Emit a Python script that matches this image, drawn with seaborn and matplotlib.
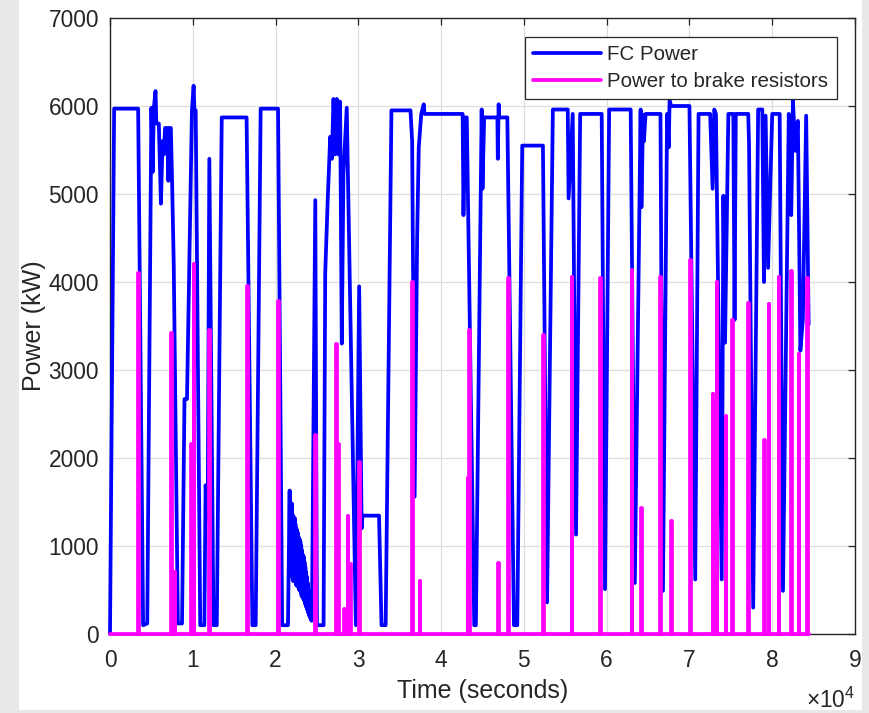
import numpy as np
import pandas as pd
import matplotlib
matplotlib.use("Agg")
import matplotlib.pyplot as plt
from matplotlib.patches import Rectangle
from matplotlib.ticker import FuncFormatter
import seaborn as sns

# ---- FC power trace (time in s, power in kW) ----
fc_t = [0, 500, 3400, 4000, 4500, 5000, 5150, 5300, 5500, 5600, 5900, 6150, 6350,
        6500, 6650, 6900, 7050, 7150, 7350, 7500, 7700, 8200, 8700, 9000, 9300,
        9900, 10100, 10200, 10350, 10900, 11400, 11550, 11800, 12000, 12500, 12900,
        13500, 16500, 17200, 17600, 18200, 20300, 20800, 21500]
fc_kw = [0, 5970, 5970, 100, 120, 5980, 5250, 5980, 6170, 5800, 5800, 4890, 5600,
         5450, 5750, 5750, 5150, 5750, 5750, 5150, 4200, 120, 120, 2670, 2670,
         5950, 6230, 5950, 5950, 100, 100, 1690, 1300, 5400, 100, 100,
         5870, 5870, 100, 100, 5970, 5970, 100, 100]

# oscillating low-power stretch (50 s samples)
osc_t = [21700, 21750, 21800, 21850, 21900, 21950, 22000, 22050, 22100, 22150,
         22200, 22250, 22300, 22350, 22400, 22450, 22500, 22550, 22600, 22650,
         22700, 22750, 22800, 22850, 22900, 22950, 23000, 23050, 23100, 23150,
         23200, 23250, 23300, 23350, 23400, 23450, 23500, 23550, 23600, 23650,
         23700, 23750, 23800, 23850, 23900, 23950, 24000, 24050, 24100, 24150,
         24200, 24250, 24300, 24350, 24400]
osc_kw = [1630, 700, 1500, 760, 1450, 650, 1480, 720, 1350, 600,
          1300, 680, 1320, 620, 1250, 560, 1200, 600, 1180, 540,
          1150, 580, 1100, 500, 1080, 520, 1050, 470, 1000, 430,
          950, 460, 900, 400, 880, 380, 820, 350, 760, 320,
          700, 300, 650, 270, 580, 240, 500, 210, 430, 190,
          360, 170, 300, 150, 250]

fc_t2 = [24800, 25000, 25800, 26000, 26300, 26600, 26800, 27000, 27200, 27400,
         27600, 27800, 28000, 28200, 28600, 29700, 30100, 30400, 30500, 32500,
         32800, 33300, 34000, 36300, 36500, 36800, 37100, 37300, 37600, 37900,
         38000, 42600, 42700, 42900, 43100, 44000, 44200, 44900, 45000, 45200,
         46800, 46850, 46950, 47000, 48000, 48800, 49200, 49800, 52300, 52800,
         53500, 55300, 55400, 55900, 56300, 56800, 59400, 59800, 60300, 62900,
         63400, 64100, 64200, 64400, 64500, 64700, 66500, 66800, 67300, 67500,
         67600, 67800, 70000, 70700, 71100, 72500, 72800, 73000, 73200, 73900,
         74100, 74300, 74700, 75300, 75450, 75600, 77100, 77200, 77700, 78300,
         78800, 79000, 79200, 79500, 80000, 80900, 81300, 82000, 82300, 82500,
         82800, 83100, 83400, 83700, 84100, 84400]
fc_kw2 = [4930, 100, 100, 4100, 4930, 5650, 5400, 6080, 5450, 6080,
          5450, 6050, 3300, 5230, 5980, 100, 3950, 1200, 1345, 1345,
          100, 100, 5950, 5950, 5600, 1560, 4480, 5530, 5910, 6020,
          5910, 5910, 4760, 5870, 5870, 100, 100, 5960, 5060, 5870,
          5870, 5400, 6020, 5870, 5870, 100, 100, 5550, 5550, 360,
          5960, 5960, 4950, 5910, 1130, 5910, 5910, 510, 5960, 5960,
          580, 5960, 4850, 5900, 5600, 5910, 5910, 490, 5910, 5530,
          6060, 6000, 6000, 620, 5910, 5910, 5060, 5960, 5910, 620,
          4980, 3310, 5910, 5910, 3570, 5910, 5910, 5570, 300, 5960,
          5960, 4000, 5890, 4160, 5910, 5910, 490, 5910, 4760, 6060,
          5490, 5830, 3220, 3570, 5890, 3520]

# ---- Power dumped to brake resistors: spike times (s) and peak power (kW) ----
brake_t = [3400, 7400, 7800, 9800, 10100, 12000, 16600, 20300, 24800, 27300,
           27600, 28300, 28700, 29000, 30100, 36500, 37400, 43200, 43400, 46900,
           48100, 52300, 55800, 59200, 63000, 64200, 66500, 67800, 70100, 72800,
           73300, 74400, 75200, 77100, 79000, 79600, 80800, 82300, 83200, 84200]
brake_kw = [4100, 3420, 700, 2160, 4200, 3460, 3950, 3780, 2260, 3300,
            2160, 280, 1345, 790, 1960, 4000, 600, 1770, 3460, 810,
            4040, 3400, 4060, 4040, 4140, 1430, 4060, 1280, 4250, 2730,
            4000, 2480, 3570, 3760, 2200, 3750, 4060, 4120, 3180, 4040]
brake_end = 84400
pulse_width = 70

x_ticks = list(range(0, 90001, 10000))
y_ticks = list(range(0, 7001, 1000))

# ---- assemble tables ----
fc = pd.DataFrame({"t": fc_t + osc_t + fc_t2, "kw": fc_kw + osc_kw + fc_kw2})

bt, bk = [0], [0]
for t, v in zip(brake_t, brake_kw):
    bt += [t, t, t + pulse_width, t + pulse_width]
    bk += [0, v, v, 0]
bt.append(brake_end)
bk.append(0)
brake = pd.DataFrame({"t": bt, "kw": bk})

# ---- style ----
sns.set_style("white")
plt.rcParams["font.family"] = ["Liberation Sans", "DejaVu Sans"]
plt.rcParams["mathtext.fontset"] = "custom"
plt.rcParams["mathtext.rm"] = "Liberation Sans"
plt.rcParams["mathtext.it"] = "Liberation Sans"

fig = plt.figure(figsize=(8.7, 7.13), dpi=100)
fig.patch.set_facecolor("#e8e8e8")
fig.add_artist(Rectangle((19 / 870, 3 / 713), (862 - 19) / 870, 710 / 713,
                         transform=fig.transFigure, facecolor="white",
                         edgecolor="none", zorder=-10))

ax = fig.add_axes([110 / 870, (713 - 634) / 713, (855 - 110) / 870, (634 - 18) / 713])
ax.set_facecolor("white")

LW = 2.7
sns.lineplot(data=fc, x="t", y="kw", sort=False, estimator=None, ax=ax,
             color="#0000ff", lw=LW, label="FC Power")
sns.lineplot(data=brake, x="t", y="kw", sort=False, estimator=None, ax=ax,
             color="#ff00ff", lw=LW, label="Power to brake resistors")
for ln in ax.get_lines():
    ln.set_clip_on(False)
    ln.set_zorder(3)

ax.set_xlim(0, 90000)
ax.set_ylim(0, 7000)
ax.set_xticks(x_ticks)
ax.set_yticks(y_ticks)
ax.xaxis.set_major_formatter(FuncFormatter(lambda v, p: f"{v / 1e4:g}"))
ax.grid(True, color="#dedede", lw=0.9)
ax.set_axisbelow(True)

for s in ax.spines.values():
    s.set_visible(True)
    s.set_color("#262626")
    s.set_linewidth(1.0)
    s.set_zorder(2.5)

ax.tick_params(axis="both", direction="in", length=5, width=0.9, color="#262626",
               labelsize=16.4, labelcolor="#262626", top=True, right=True)
ax.tick_params(axis="x", pad=11)
ax.tick_params(axis="y", pad=8)

ax.set_xlabel("Time (seconds)", fontsize=18, color="#262626", labelpad=5)
ax.set_ylabel("Power (kW)", fontsize=18, color="#262626", labelpad=2)

fig.text(855 / 870, (713 - 708) / 713, r"$\mathregular{\times10^{4}}$",
         ha="right", va="baseline", fontsize=16.4, color="#262626")

leg = ax.legend(loc="upper right", fontsize=14.8, frameon=True, fancybox=False,
                framealpha=1, edgecolor="#262626", handlelength=3.3,
                handletextpad=0.3, labelspacing=0.4, borderaxespad=0.9,
                borderpad=0.4)
leg.get_frame().set_linewidth(0.9)
leg.set_zorder(5)
for line in leg.get_lines():
    line.set_linewidth(LW)

fig.savefig("out.png", dpi=100, facecolor=fig.get_facecolor())
